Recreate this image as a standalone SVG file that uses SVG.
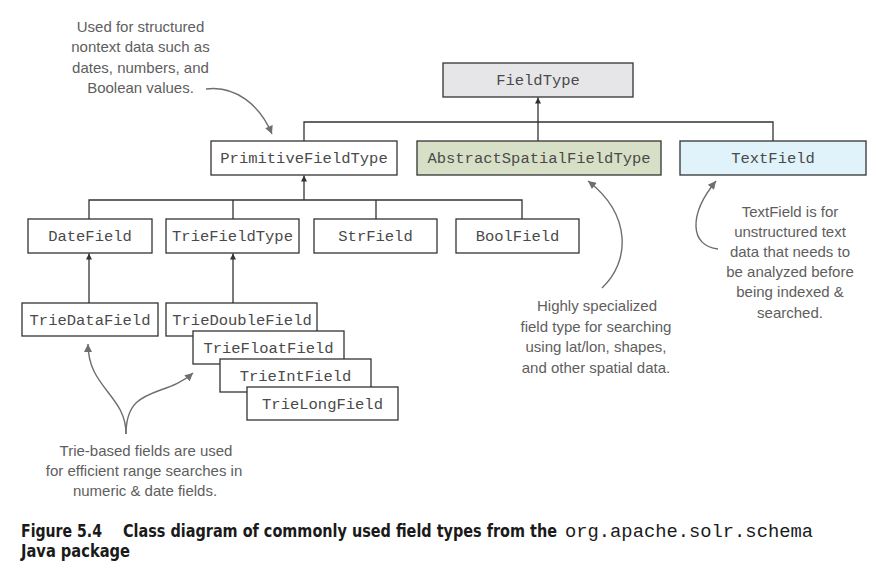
<svg xmlns="http://www.w3.org/2000/svg" width="878" height="568" viewBox="0 0 878 568">
<defs>
<style>
.box{stroke:#333;stroke-width:1.3;fill:#fff}
.lbl{font-family:"Liberation Mono","Courier New",monospace;font-size:15.5px;fill:#4a4a4a;text-anchor:middle}
.note{font-family:"Liberation Sans",Arial,sans-serif;font-size:15px;fill:#5e5e5e;text-anchor:middle}
.conn{stroke:#333;stroke-width:1.3;fill:none}
.ann{stroke:#6e6e6e;stroke-width:1.4;fill:none}
.cap{font-family:"Liberation Sans Narrow","DejaVu Sans Condensed","Liberation Sans",sans-serif;font-weight:bold;font-size:17px;fill:#1a1a1a}
.capm{font-family:"Liberation Mono","Courier New",monospace;font-weight:normal;font-size:18px;fill:#1a1a1a}
</style>
<marker id="ah" viewBox="0 0 10 10" refX="10" refY="5" markerWidth="7" markerHeight="6" markerUnits="userSpaceOnUse" orient="auto">
<path d="M0,0 L10,5 L0,10 z" fill="#333"/>
</marker>
<marker id="ga" viewBox="0 0 10 10" refX="10" refY="5" markerWidth="10" markerHeight="8" markerUnits="userSpaceOnUse" orient="auto">
<path d="M0,0 L10,5 L0,10 z" fill="#6e6e6e"/>
</marker>
</defs>
<rect width="878" height="568" fill="#fff"/>

<g id="connectors">
<path class="conn" d="M538,141 L538,97.5" marker-end="url(#ah)"/>
<path class="conn" d="M304,141 L304,122 L773,122 L773,141"/>
<path class="conn" d="M304,200 L304,175.5" marker-end="url(#ah)"/>
<path class="conn" d="M89,219 L89,200 L522,200 L522,219"/>
<path class="conn" d="M233,200 L233,219 M376,200 L376,219"/>
<path class="conn" d="M89,303 L89,253.5" marker-end="url(#ah)"/>
<path class="conn" d="M233,303 L233,253.5" marker-end="url(#ah)"/>
</g>

<g id="FieldType"><rect class="box" x="443" y="63" width="190" height="34" style="fill:#e6e6e8"/><text class="lbl" x="538" y="85">FieldType</text></g>
<g id="PrimitiveFieldType"><rect class="box" x="211" y="141" width="186" height="34"/><text class="lbl" x="304" y="163">PrimitiveFieldType</text></g>
<g id="AbstractSpatialFieldType"><rect class="box" x="417" y="141" width="244" height="34" style="fill:#d7e0c6"/><text class="lbl" x="539" y="163">AbstractSpatialFieldType</text></g>
<g id="TextField"><rect class="box" x="680" y="141" width="186" height="34" style="fill:#e0f2fa"/><text class="lbl" x="773" y="163">TextField</text></g>
<g id="DateField"><rect class="box" x="28" y="219" width="124" height="34"/><text class="lbl" x="90" y="241">DateField</text></g>
<g id="TrieFieldType"><rect class="box" x="166" y="219" width="133" height="34"/><text class="lbl" x="232.5" y="241">TrieFieldType</text></g>
<g id="StrField"><rect class="box" x="314" y="219" width="123" height="34"/><text class="lbl" x="375.5" y="241">StrField</text></g>
<g id="BoolField"><rect class="box" x="456" y="219" width="123" height="34"/><text class="lbl" x="517.5" y="241">BoolField</text></g>
<g id="TrieDataField"><rect class="box" x="22" y="303" width="136" height="33"/><text class="lbl" x="90" y="324.5">TrieDataField</text></g>
<g id="TrieDoubleField"><rect class="box" x="166" y="303" width="151" height="33"/><text class="lbl" x="242" y="324.5">TrieDoubleField</text></g>
<g id="TrieFloatField"><rect class="box" x="193" y="331" width="151" height="33"/><text class="lbl" x="268.5" y="352.5">TrieFloatField</text></g>
<g id="TrieIntField"><rect class="box" x="220" y="359" width="151" height="33"/><text class="lbl" x="295.5" y="380.5">TrieIntField</text></g>
<g id="TrieLongField"><rect class="box" x="247" y="387" width="151" height="33"/><text class="lbl" x="322.5" y="408.5">TrieLongField</text></g>

<g id="note-primitive">
<text class="note"><tspan x="140.5" y="32">Used for structured</tspan><tspan x="140.5" y="52.3">nontext data such as</tspan><tspan x="140.5" y="72.6">dates, numbers, and</tspan><tspan x="140.5" y="93">Boolean values.</tspan></text>
<path class="ann" d="M206,89 C235,85 260,105 272,134" marker-end="url(#ga)"/>
</g>
<g id="note-spatial">
<text class="note"><tspan x="597" y="311">Highly specialized</tspan><tspan x="596" y="331.5">field type for searching</tspan><tspan x="596" y="352">using lat/lon, shapes,</tspan><tspan x="596" y="372.5">and other spatial data.</tspan></text>
<path class="ann" d="M602,288 C630,262 632,215 588,181" marker-end="url(#ga)"/>
</g>
<g id="note-textfield">
<text class="note"><tspan x="790" y="216.5">TextField is for</tspan><tspan x="790" y="236.7">unstructured text</tspan><tspan x="790" y="256.9">data that needs to</tspan><tspan x="790" y="277.1">be analyzed before</tspan><tspan x="790" y="297.3">being indexed &amp;</tspan><tspan x="790" y="317.5">searched.</tspan></text>
<path class="ann" d="M718,249 C690,246 688,215 716,181" marker-end="url(#ga)"/>
</g>
<g id="note-trie">
<text class="note"><tspan x="146" y="455.5">Trie-based fields are used</tspan><tspan x="144" y="475.5">for efficient range searches in</tspan><tspan x="145" y="495.5">numeric &amp; date fields.</tspan></text>
<path class="ann" d="M126,434 C126,395 88,388 88,344" marker-end="url(#ga)"/>
<path class="ann" d="M126,434 C126,385 165,398 193,373" marker-end="url(#ga)"/>
</g>

<g id="caption">
<text class="cap" x="21" y="537" textLength="81" lengthAdjust="spacingAndGlyphs">Figure 5.4</text>
<text class="cap" x="123" y="537" textLength="434" lengthAdjust="spacingAndGlyphs">Class diagram of commonly used field types from the</text>
<text class="capm" x="565" y="537" textLength="248" lengthAdjust="spacingAndGlyphs">org.apache.solr.schema</text>
<text class="cap" x="21" y="557" textLength="109" lengthAdjust="spacingAndGlyphs">Java package</text>
</g>
</svg>
